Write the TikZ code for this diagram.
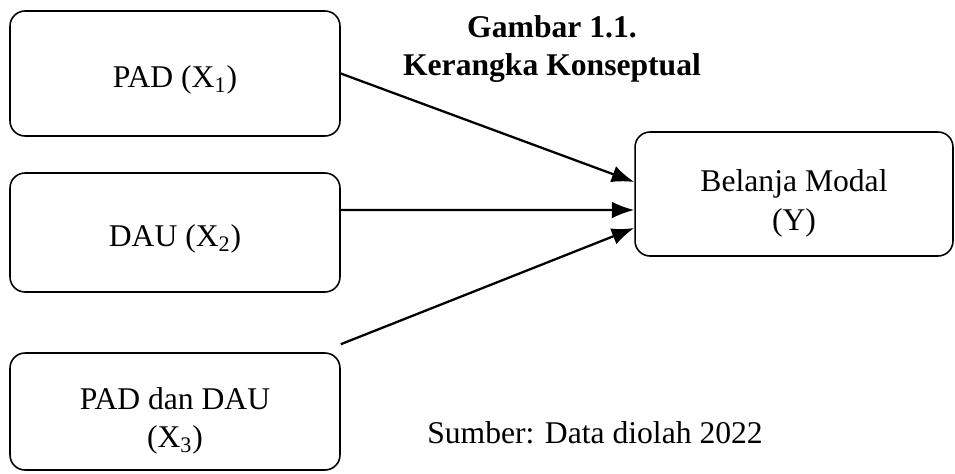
\documentclass[tikz,border=0pt]{standalone}
\usepackage{fontspec}
\setmainfont{Liberation Serif}
\usetikzlibrary{arrows.meta}
\begin{document}
\begin{tikzpicture}[x=0.02cm, y=-0.02cm,
        varbox/.style={draw, line width=0.9pt, rounded corners=0.3cm, align=center,
            minimum width=6.6cm, font=\fontsize{18}{22}\selectfont, text height=20pt},
        twoline/.style={text height=45pt},
        arr/.style={-{Latex[length=0.45cm, width=0.34cm]}, line width=1.3pt}]
        \useasboundingbox (0,0) rectangle (955,473);
        % variabel bebas
        \node[varbox, minimum height=2.5cm] (x1) at (175,73.5) {PAD (X\textsubscript{1})};
        \node[varbox, minimum height=2.38cm] (x2) at (175,232.5) {DAU (X\textsubscript{2})};
        \node[varbox, twoline, minimum height=2.34cm] (x3) at (175,411.5) {PAD dan DAU\\(X\textsubscript{3})};
        % variabel terikat
        \node[varbox, twoline, minimum width=6.36cm, minimum height=2.48cm] (y) at (794,194) {Belanja Modal\\(Y)};
        \node[font=\fontsize{18}{21.6}\selectfont\bfseries, align=center] (judul) at (552,49) {Gambar 1.1.\\Kerangka Konseptual};
        \node[font=\fontsize{18}{22}\selectfont] (sumber) at (595,433) {Sumber: Data diolah 2022};
        \coordinate (x3out) at ([yshift=0.16cm]x3.north east);
        \draw[arr] (x1.east) -- ([yshift=0.24cm]y.west);
        \draw[arr] ([yshift=0.45cm]x2.east) -- ([yshift=-0.32cm]y.west);
        \draw[arr] (x3out) -- ([yshift=-0.68cm]y.west);
    \end{tikzpicture}
\end{document}
